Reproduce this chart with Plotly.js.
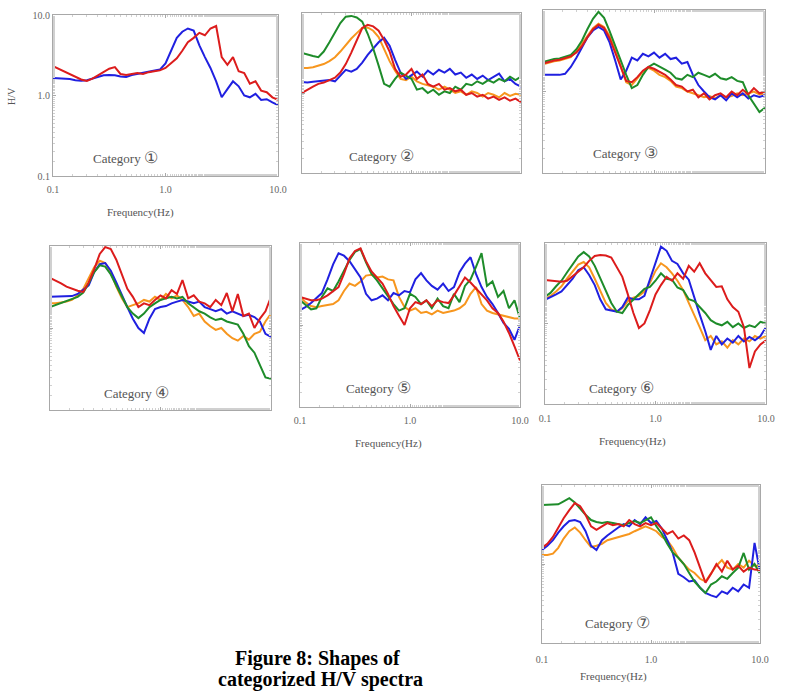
<!DOCTYPE html>
<html>
<head>
<meta charset="utf-8">
<script src="https://cdn.plot.ly/plotly-3.0.1.min.js"></script>
<style>
  html, body { margin: 0; padding: 0; background: #fff; }
  #chart { width: 786px; height: 693px; }
</style>
</head>
<body>
<div id="chart"></div>
<script>
// Frequency samples (Hz), shared by all spectra
const FREQ = [0.1, 0.112, 0.126, 0.141, 0.158, 0.178, 0.2, 0.224, 0.251, 0.282,
  0.316, 0.355, 0.398, 0.447, 0.501, 0.562, 0.631, 0.708, 0.794, 0.891,
  1.0, 1.12, 1.26, 1.41, 1.58, 1.78, 2.0, 2.24, 2.51, 2.82,
  3.16, 3.55, 3.98, 4.47, 5.01, 5.62, 6.31, 7.08, 7.94, 8.91, 10.0];

const CATEGORY_NAME = 'Category';
const CATEGORY_MARKS = ['\u2460', '\u2461', '\u2462', '\u2463', '\u2464', '\u2465', '\u2466'];

const X_TICK_VALS = [0.1, 1, 10];
const X_TICK_TEXT = ['0.1', '1.0', '10.0'];
const Y_TICK_VALS = [0.1, 1, 10];
const Y_TICK_TEXT = ['0.1', '1.0', '10.0'];

// H/V ratios, category 1
const C1_BLUE = [1.65, 1.64, 1.63, 1.6, 1.55, 1.52, 1.55, 1.62, 1.7, 1.78,
  1.8, 1.78, 1.72, 1.7, 1.8, 1.85, 1.9, 1.95, 2.0, 2.1,
  2.5, 3.6, 5.2, 6.2, 6.8, 6.4, 4.2, 3.0, 2.2, 1.5,
  0.95, 1.2, 1.5, 1.3, 1.0, 0.95, 1.05, 0.88, 0.9, 0.82, 0.76];
const C1_RED = [2.32, 2.15, 2.0, 1.85, 1.7, 1.58, 1.52, 1.62, 1.78, 1.95,
  2.15, 2.25, 1.85, 1.8, 1.85, 1.9, 1.85, 1.95, 2.0, 2.05,
  2.2, 2.5, 2.9, 3.6, 4.6, 5.2, 6.0, 5.6, 6.8, 7.3,
  3.0, 2.4, 3.0, 2.0, 1.9, 1.4, 1.5, 1.15, 1.1, 0.95, 0.88];

// category 2
const C2_ORANGE = [2.05, 2.05, 2.1, 2.2, 2.3, 2.5, 2.8, 3.3, 4.0, 4.8,
  5.6, 6.5, 6.6, 6.0, 5.0, 3.6, 2.5, 1.9, 1.5, 1.45,
  1.6, 1.4, 1.3, 1.25, 1.2, 1.1, 1.2, 1.1, 1.0, 1.05,
  0.95, 1.05, 1.0, 0.9, 1.0, 0.95, 0.88, 1.0, 0.92, 0.98, 0.95];
const C2_BLUE = [1.37, 1.35, 1.38, 1.4, 1.42, 1.45, 1.4, 1.65, 1.95, 1.85,
  2.0, 2.4, 3.0, 3.6, 4.3, 4.9, 3.9, 2.6, 1.8, 1.5,
  1.65, 1.85, 1.6, 1.9, 1.7, 1.95, 1.8, 2.0, 1.7, 1.8,
  1.55, 1.7, 1.5, 1.65, 1.45, 1.6, 1.75, 1.4, 1.5, 1.3, 1.2];
const C2_GREEN = [3.16, 3.0, 2.9, 2.8, 3.3, 4.3, 5.8, 7.5, 9.0, 9.2,
  8.8, 7.8, 5.5, 3.6, 2.2, 1.3, 1.2, 1.5, 1.8, 1.65,
  1.5, 1.1, 1.15, 1.0, 1.1, 0.95, 1.05, 1.0, 1.2, 1.1,
  1.3, 1.25, 1.4, 1.3, 1.45, 1.35, 1.5, 1.4, 1.6, 1.45, 1.6];
const C2_RED = [1.0, 1.1, 1.2, 1.3, 1.35, 1.45, 1.55, 1.8, 2.3, 3.2,
  4.5, 6.5, 7.1, 6.8, 6.0, 4.6, 3.3, 2.0, 1.6, 1.7,
  2.0, 1.5, 1.7, 1.3, 1.2, 1.3, 1.1, 1.15, 1.05, 1.1,
  0.95, 1.0, 0.9, 0.95, 0.85, 0.9, 0.82, 0.88, 0.8, 0.85, 0.77];

// category 3
const C3_ORANGE = [2.15, 2.25, 2.35, 2.4, 2.5, 2.65, 3.1, 3.8, 4.8, 6.0,
  6.8, 6.2, 4.8, 3.2, 2.1, 1.3, 1.2, 1.45, 1.75, 1.95,
  1.8, 1.6, 1.5, 1.35, 1.15, 1.1, 1.0, 0.95, 0.9, 0.85,
  0.88, 0.82, 0.9, 0.85, 0.88, 0.95, 0.9, 0.95, 1.0, 0.92, 0.95];
const C3_BLUE = [1.6, 1.6, 1.6, 1.6, 1.65, 2.0, 2.6, 3.5, 4.6, 5.6,
  6.2, 5.6, 4.0, 2.4, 1.4, 1.8, 2.6, 2.4, 2.9, 2.7,
  3.0, 2.6, 2.9, 2.5, 2.6, 2.2, 2.3, 1.6, 1.2, 1.0,
  0.85, 0.8, 0.9, 0.78, 0.95, 0.85, 0.95, 0.82, 0.9, 0.86, 0.9];
const C3_GREEN = [2.3, 2.4, 2.5, 2.55, 2.65, 2.8, 3.3, 4.2, 5.8, 7.8,
  9.5, 8.0, 5.5, 3.6, 2.5, 1.6, 1.1, 1.2, 1.6, 2.0,
  2.2, 2.0, 1.85, 1.7, 1.45, 1.4, 1.6, 1.5, 1.7, 1.6,
  1.5, 1.65, 1.45, 1.4, 1.5, 1.35, 1.3, 0.9, 0.7, 0.56, 0.63];
const C3_RED = [2.2, 2.3, 2.4, 2.45, 2.55, 2.7, 3.0, 3.6, 4.6, 5.8,
  6.6, 6.0, 4.5, 3.0, 2.0, 1.35, 1.3, 1.5, 1.8, 2.0,
  1.9, 1.75, 1.6, 1.4, 1.2, 1.15, 1.0, 1.05, 0.85, 0.95,
  0.8, 0.9, 0.95, 0.85, 1.0, 0.9, 1.05, 0.92, 1.1, 0.95, 1.0];

// category 4
const C4_ORANGE = [2.0, 2.0, 2.05, 2.1, 2.2, 2.5, 3.0, 4.0, 5.5, 6.6,
  6.2, 4.8, 3.2, 2.3, 1.8, 1.9, 2.0, 2.2, 2.1, 2.4,
  2.2, 2.6, 2.3, 2.5, 2.2, 1.8, 1.4, 1.5, 1.2, 1.05,
  0.95, 1.0, 0.85, 0.75, 0.7, 0.8, 0.72, 0.85, 0.9, 1.2, 1.5];
const C4_BLUE = [2.4, 2.4, 2.4, 2.4, 2.45, 2.6, 2.9, 3.3, 4.8, 6.0,
  6.2, 5.0, 3.6, 2.5, 1.8, 1.3, 1.0, 0.87, 1.3, 1.7,
  1.8, 1.85, 2.0, 2.1, 2.2, 2.1, 2.0, 2.1, 1.8, 1.7,
  1.6, 1.7, 1.5, 1.6, 1.5, 1.4, 1.45, 1.36, 1.2, 0.85, 0.78];
const C4_GREEN = [1.8, 1.9, 2.0, 2.1, 2.25, 2.4, 2.7, 3.5, 4.8, 5.8,
  5.6, 4.5, 3.3, 2.4, 1.8, 1.5, 1.32, 1.5, 1.8, 2.0,
  2.2, 2.3, 2.4, 2.3, 2.4, 2.0, 1.8, 1.6, 1.5, 1.35,
  1.25, 1.3, 1.2, 1.15, 1.1, 0.85, 0.6, 0.5, 0.35, 0.25, 0.24];
const C4_RED = [4.07, 3.8, 3.5, 3.2, 3.0, 2.85, 2.75, 3.6, 5.2, 8.0,
  9.7, 9.2, 6.8, 4.5, 3.0, 2.4, 1.8, 2.0, 1.9, 2.2,
  2.5, 2.3, 2.9, 2.6, 3.85, 2.3, 2.5, 2.1, 2.0, 1.8,
  2.2, 1.9, 2.67, 1.6, 2.6, 1.4, 1.5, 1.0, 1.3, 1.6, 2.4];

// category 5
const C5_ORANGE = [2.2, 1.9, 1.7, 1.65, 1.7, 1.75, 1.8, 2.0, 2.6, 3.2,
  3.0, 3.4, 4.0, 4.1, 3.8, 3.9, 3.6, 3.5, 2.2, 1.66,
  1.5, 1.6, 1.4, 1.45, 1.35, 1.5, 1.4, 1.45, 1.5, 1.6,
  1.8, 2.4, 2.9, 1.8, 1.5, 1.4, 1.35, 1.3, 1.25, 1.2, 1.2];
const C5_BLUE = [1.52, 1.65, 1.85, 2.1, 2.45, 3.6, 5.5, 7.5, 7.0, 6.0,
  4.8, 3.8, 2.4, 2.0, 2.1, 2.3, 2.0, 2.45, 2.3, 2.6,
  2.5, 3.6, 4.3, 3.5, 3.0, 2.7, 3.2, 2.6, 2.9, 4.4,
  5.6, 6.7, 4.2, 2.9, 2.2, 1.8, 1.4, 1.06, 0.9, 0.66, 1.0];
const C5_GREEN = [2.0, 1.75, 1.55, 1.6, 2.2, 2.8, 2.6, 3.4, 4.5, 6.2,
  7.8, 8.4, 5.8, 4.2, 3.5, 2.8, 2.2, 1.8, 1.5, 1.6,
  2.4, 2.2, 1.8, 2.0, 1.6, 2.1, 1.7, 1.6, 2.4, 1.9,
  3.0, 3.6, 5.1, 7.5, 3.0, 3.4, 2.2, 2.6, 1.6, 2.0, 1.2];
const C5_RED = [2.2, 2.1, 2.0, 2.0, 2.1, 2.3, 2.6, 2.9, 4.2, 6.5,
  8.0, 8.6, 6.0, 4.5, 3.8, 3.2, 2.4, 1.7, 1.3, 1.0,
  1.6, 1.9, 1.8, 2.0, 1.7, 2.0, 1.9, 1.85, 2.3, 3.0,
  3.8, 3.3, 2.8, 2.3, 2.0, 1.6, 1.4, 1.1, 0.8, 0.55, 0.37];

// category 6
const C6_ORANGE = [2.0, 2.2, 2.5, 2.9, 3.6, 4.5, 5.4, 5.8, 5.0, 3.6,
  2.5, 1.8, 1.5, 1.4, 1.55, 1.9, 2.1, 2.2, 2.5, 3.2,
  4.5, 5.6, 5.0, 4.2, 3.4, 2.6, 1.8, 1.3, 0.9, 0.62,
  0.7, 0.55, 0.6, 0.5, 0.62, 0.55, 0.65, 0.6, 0.7, 0.65, 0.7];
const C6_BLUE = [1.96, 2.1, 2.3, 2.5, 3.0, 3.6, 4.6, 5.0, 4.0, 3.0,
  2.0, 1.5, 1.45, 1.4, 1.6, 2.1, 2.0, 2.0, 2.2, 3.5,
  5.6, 9.0, 8.0, 6.0, 5.5, 4.2, 3.5, 2.2, 1.3, 0.8,
  0.47, 0.7, 0.55, 0.65, 0.58, 0.7, 0.6, 0.68, 0.62, 0.7, 0.9];
const C6_GREEN = [2.15, 2.4, 2.9, 3.4, 4.3, 5.5, 6.8, 7.7, 6.8, 5.2,
  3.6, 2.5, 1.8, 1.4, 1.35, 1.7, 2.0, 2.3, 2.7, 2.85,
  3.4, 4.2, 3.6, 3.5, 2.8, 2.6, 2.0, 1.9, 1.6, 1.35,
  1.1, 1.0, 0.95, 1.05, 0.9, 1.0, 0.88, 0.95, 0.9, 1.05, 1.0];
const C6_RED = [3.47, 3.4, 3.35, 3.3, 3.4, 3.9, 4.5, 5.0, 6.0, 6.9,
  7.1, 7.0, 6.6, 5.0, 3.8, 2.3, 1.35, 0.88, 1.0, 1.47,
  2.3, 3.0, 3.8, 3.4, 4.2, 3.6, 5.2, 4.4, 5.6, 4.2,
  3.5, 2.85, 2.9, 2.0, 1.6, 1.4, 0.9, 0.28, 0.45, 0.55, 0.62];

// category 7
const C7_ORANGE = [1.3, 1.3, 1.35, 1.6, 2.1, 2.6, 2.9, 2.5, 2.0, 1.64,
  1.7, 1.8, 2.0, 2.1, 2.2, 2.3, 2.4, 2.6, 2.8, 3.0,
  2.8, 2.6, 2.2, 2.0, 1.6, 1.2, 1.0, 0.85, 0.77, 0.65,
  0.6, 0.75, 0.95, 1.12, 0.9, 0.85, 1.0, 0.9, 1.1, 0.95, 0.95];
const C7_BLUE = [1.5, 1.7, 2.0, 2.5, 3.0, 3.5, 3.6, 3.4, 2.6, 1.7,
  1.5, 2.0, 2.3, 2.6, 2.9, 3.2, 3.0, 3.6, 3.2, 3.9,
  3.3, 3.5, 2.8, 2.0, 1.4, 0.75, 0.68, 0.6, 0.62, 0.5,
  0.43, 0.4, 0.38, 0.45, 0.42, 0.5, 0.45, 0.55, 0.5, 1.85, 0.8];
const C7_GREEN = [5.6, 5.6, 5.6, 5.7, 6.2, 6.8, 6.0, 5.0, 4.2, 3.6,
  3.4, 3.3, 3.4, 3.3, 3.2, 3.1, 3.3, 3.5, 3.3, 3.6,
  3.9, 3.0, 2.4, 1.8, 1.4, 1.2, 1.0, 0.77, 0.6, 0.5,
  0.43, 0.55, 0.6, 0.7, 0.65, 0.77, 0.9, 1.38, 0.85, 1.0, 0.75];
const C7_RED = [1.6, 1.8, 2.2, 2.9, 3.8, 4.8, 5.9, 5.4, 4.2, 3.0,
  2.7, 3.0, 3.3, 3.1, 3.2, 3.0, 3.6, 3.2, 3.0, 3.3,
  3.1, 3.3, 2.8, 2.4, 2.6, 2.1, 2.3, 2.0, 1.4, 0.9,
  0.58, 0.75, 1.0, 0.8, 1.1, 0.85, 0.95, 0.8, 0.9, 0.85, 0.84];

const COLORS = { orange: '#f7961e', blue: '#2020e0', green: '#1e8c2a', red: '#dc1c1c' };

// Figure geometry (pixels) for each panel frame: [left, right, top, bottom]
const W = 786, H = 693;
const PANELS = [
  { box: [53, 278, 15, 176], xLabels: true, yLabels: true, standoff: 4,
    series: [['blue', C1_BLUE], ['red', C1_RED]], cat: [126, 157] },
  { box: [302, 521, 13, 173], xLabels: false, yLabels: false, standoff: 4,
    series: [['orange', C2_ORANGE], ['blue', C2_BLUE], ['green', C2_GREEN], ['red', C2_RED]], cat: [381, 155] },
  { box: [543, 765, 10, 173], xLabels: false, yLabels: false, standoff: 4,
    series: [['orange', C3_ORANGE], ['blue', C3_BLUE], ['green', C3_GREEN], ['red', C3_RED]], cat: [625, 152] },
  { box: [50, 271, 246, 410], xLabels: false, yLabels: false, standoff: 4,
    series: [['orange', C4_ORANGE], ['blue', C4_BLUE], ['green', C4_GREEN], ['red', C4_RED]], cat: [136, 392] },
  { box: [300, 520, 243, 407], xLabels: true, yLabels: false, standoff: 4,
    series: [['orange', C5_ORANGE], ['blue', C5_BLUE], ['green', C5_GREEN], ['red', C5_RED]], cat: [378, 387] },
  { box: [545, 766, 243, 404], xLabels: true, yLabels: false, standoff: 5,
    series: [['orange', C6_ORANGE], ['blue', C6_BLUE], ['green', C6_GREEN], ['red', C6_RED]], cat: [621, 387] },
  { box: [542, 760, 485, 643], xLabels: true, yLabels: false, standoff: 7,
    series: [['orange', C7_ORANGE], ['blue', C7_BLUE], ['green', C7_GREEN], ['red', C7_RED]], cat: [617, 622] }
];

const px = x => x / W;
const py = y => 1 - y / H;
const SERIF = 'Liberation Serif, Times New Roman, serif';

const data = [];
const layout = {
  width: W, height: H,
  margin: { l: 0, r: 0, t: 0, b: 0 },
  paper_bgcolor: '#fff', plot_bgcolor: '#fff',
  showlegend: false,
  annotations: [],
  font: { family: SERIF, color: '#555', size: 10 }
};

PANELS.forEach((p, i) => {
  const k = i + 1;
  const xa = 'x' + (k === 1 ? '' : k), ya = 'y' + (k === 1 ? '' : k);
  const xKey = 'xaxis' + (k === 1 ? '' : k), yKey = 'yaxis' + (k === 1 ? '' : k);
  const [l, r, t, b] = p.box;
  p.series.forEach(([c, vals]) => {
    data.push({ x: FREQ, y: vals, xaxis: xa, yaxis: ya, type: 'scatter', mode: 'lines',
      line: { color: COLORS[c], width: 2 }, hoverinfo: 'skip' });
  });
  const common = {
    type: 'log', range: [-1, 1], showgrid: false, zeroline: false,
    showline: true, mirror: 'ticks', linecolor: '#a8a8a8', linewidth: 1,
    ticks: 'inside', ticklen: 3, tickcolor: '#a8a8a8',
    minor: { ticks: 'inside', ticklen: 2, tickcolor: '#d0d0d0', showgrid: false },
    tickfont: { family: SERIF, size: 10, color: '#666' }
  };
  layout[xKey] = Object.assign({}, common, {
    domain: [px(l), px(r)], anchor: ya,
    tickvals: X_TICK_VALS, ticktext: X_TICK_TEXT, showticklabels: p.xLabels,
    ticklabelstandoff: p.standoff
  });
  layout[yKey] = Object.assign({}, common, {
    domain: [py(b), py(t)], anchor: xa,
    tickvals: Y_TICK_VALS, ticktext: Y_TICK_TEXT, showticklabels: p.yLabels
  });
  layout.annotations.push({
    xref: 'paper', yref: 'paper', x: px(p.cat[0]), y: py(p.cat[1]),
    text: CATEGORY_NAME + ' <span style="font-size:16px">' + CATEGORY_MARKS[i] + '</span>',
    showarrow: false, xanchor: 'center', yanchor: 'middle',
    font: { family: SERIF, size: 13, color: '#555' }
  });
});

// axis captions
const freqLabels = [[140, 212], [388, 443], [632, 441], [613, 676]];
freqLabels.forEach(([x, y]) => layout.annotations.push({
  xref: 'paper', yref: 'paper', x: px(x), y: py(y), text: 'Frequency(Hz)',
  showarrow: false, xanchor: 'center', yanchor: 'middle',
  font: { family: SERIF, size: 11, color: '#555' }
}));
layout.annotations.push({
  xref: 'paper', yref: 'paper', x: px(12), y: py(96), text: 'H/V', textangle: -90,
  showarrow: false, xanchor: 'center', yanchor: 'middle',
  font: { family: SERIF, size: 10, color: '#555' }
});

// figure caption
layout.annotations.push({
  xref: 'paper', yref: 'paper', x: px(317), y: py(658), text: '<b>Figure 8: Shapes of</b>',
  showarrow: false, xanchor: 'center', yanchor: 'middle',
  font: { family: SERIF, size: 20, color: '#000' }
});
layout.annotations.push({
  xref: 'paper', yref: 'paper', x: px(320), y: py(693), text: '<b>categorized H/V spectra</b>',
  showarrow: false, xanchor: 'center', yanchor: 'bottom',
  font: { family: SERIF, size: 20, color: '#000' }
});

Plotly.newPlot('chart', data, layout, { staticPlot: true, displayModeBar: false });
</script>
</body>
</html>
